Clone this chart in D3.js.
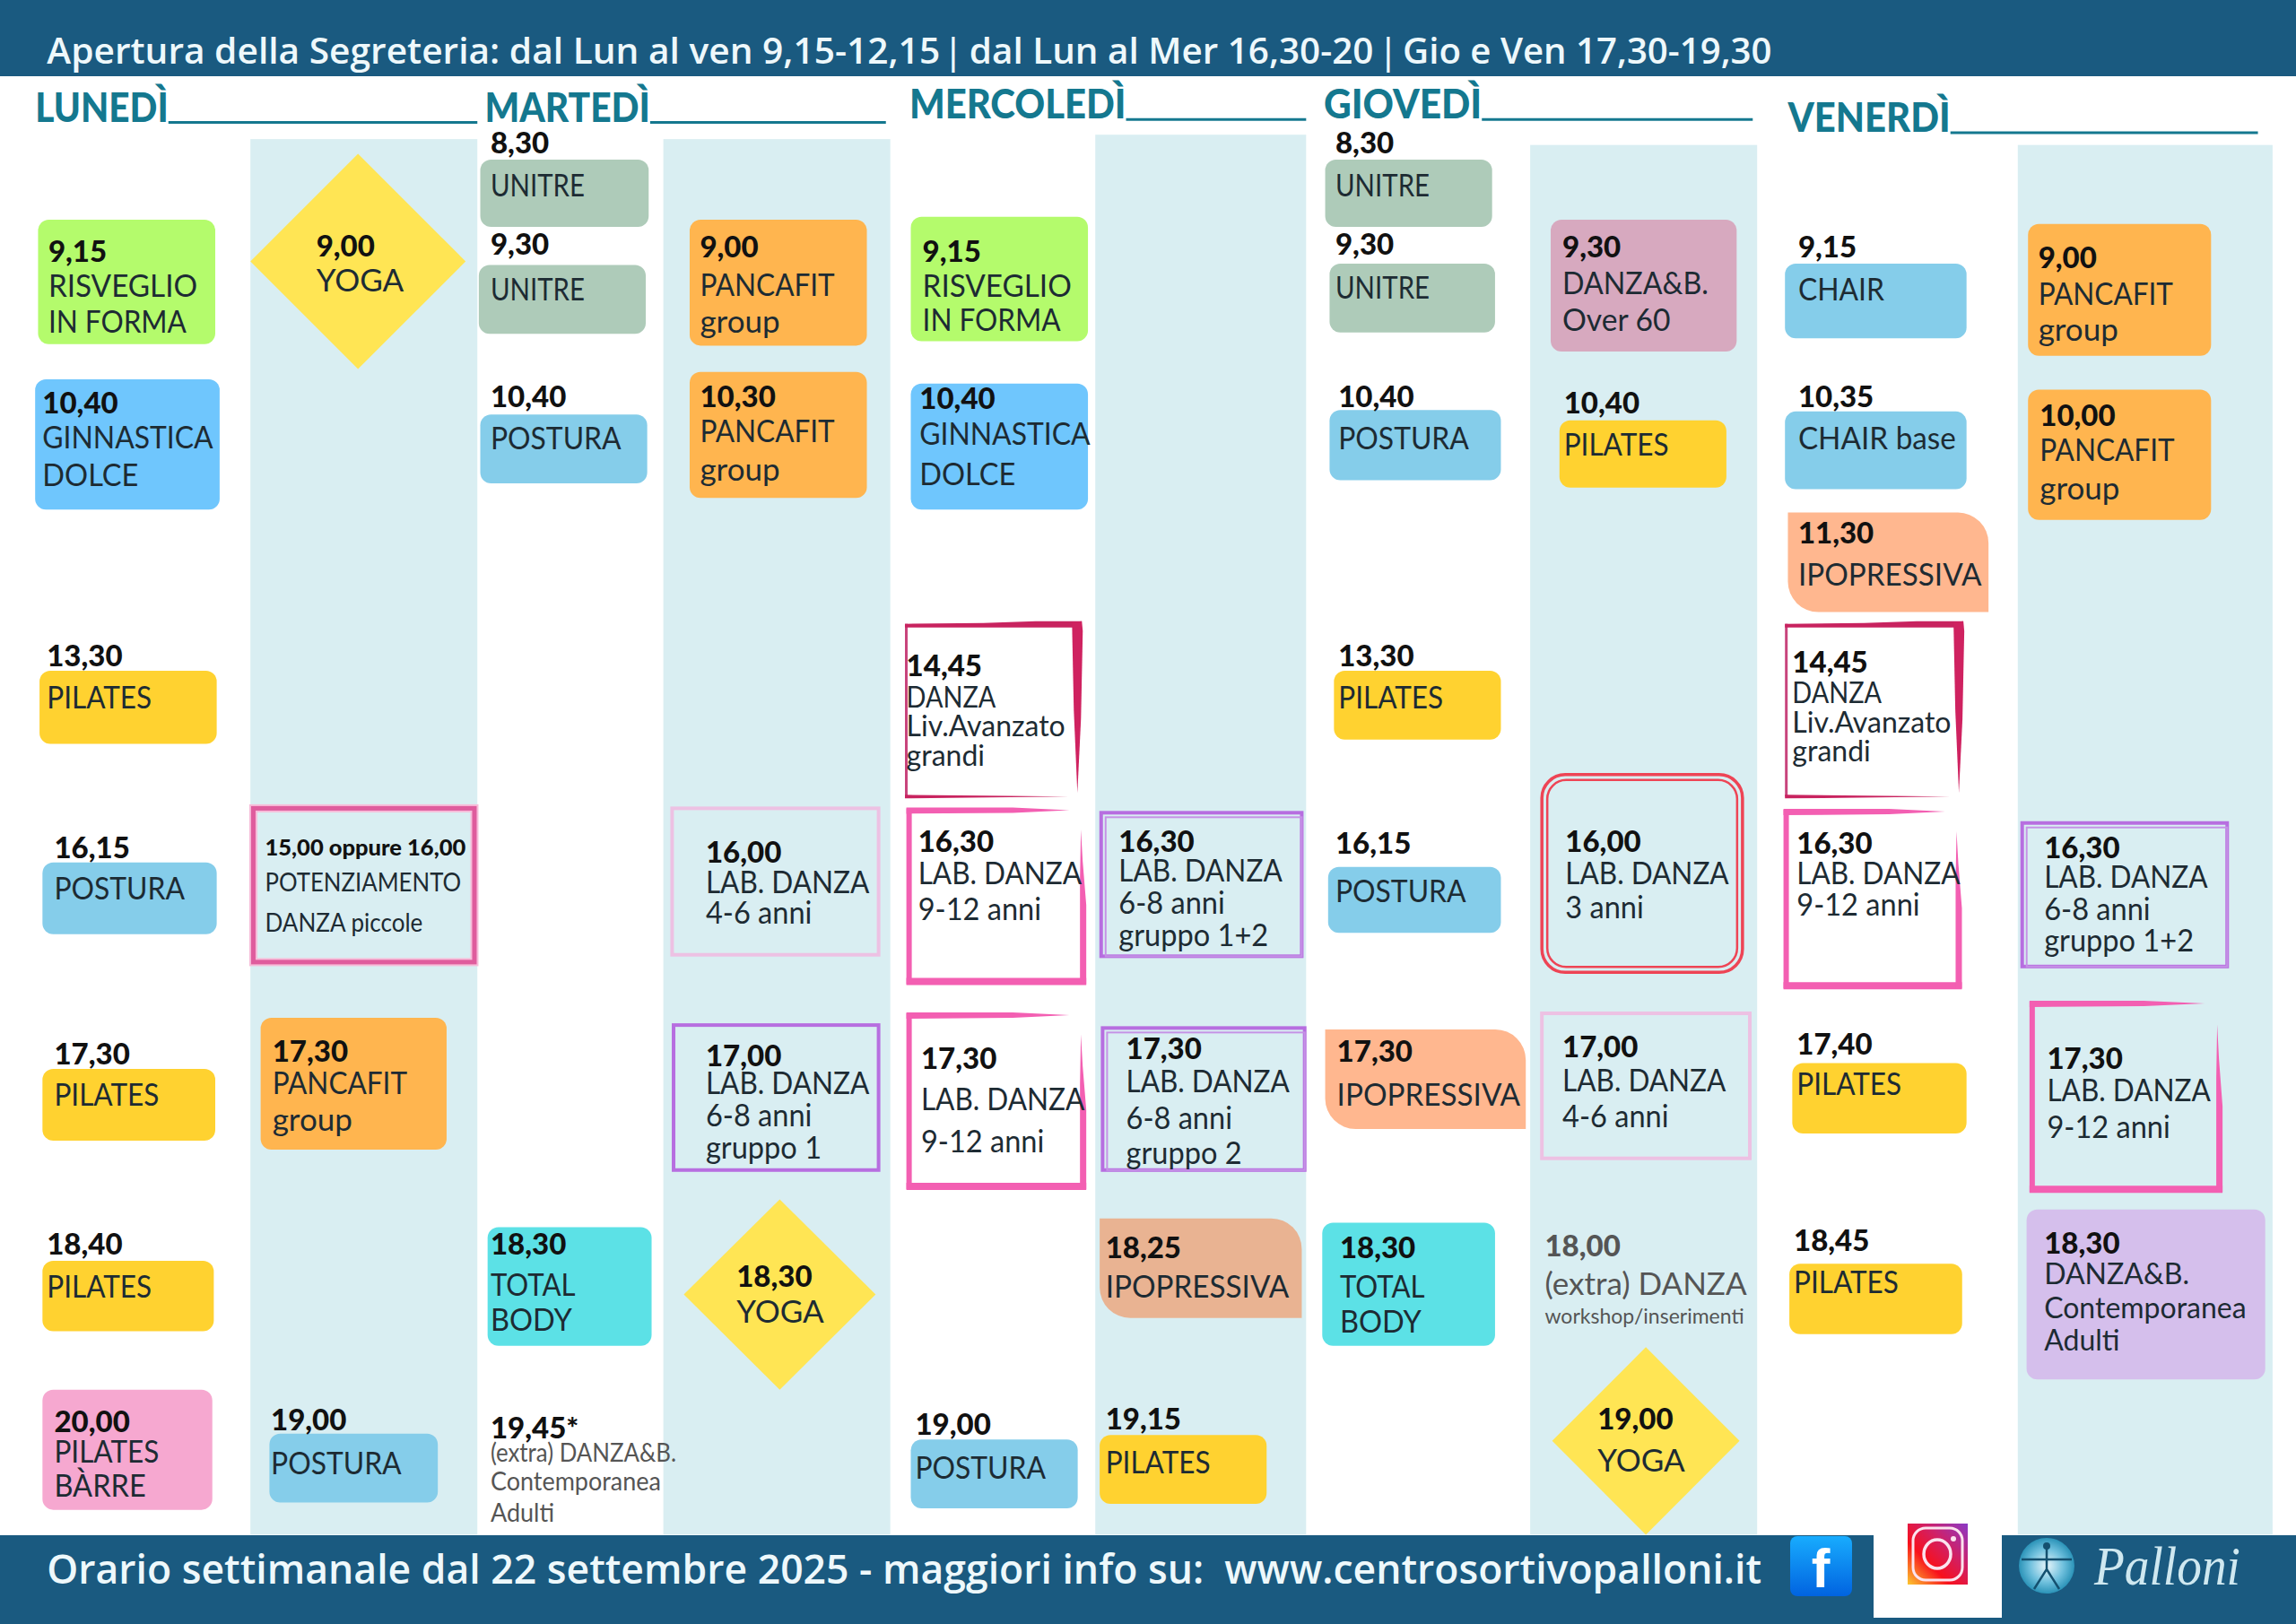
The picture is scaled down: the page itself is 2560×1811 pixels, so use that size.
<!DOCTYPE html>
<html>
<head>
<meta charset="utf-8">
<script src="https://cdn.jsdelivr.net/npm/d3@7"></script>
<style>
    html, body { margin: 0; padding: 0; background: #fff; }
    svg { display: block; }
</style>
</head>
<body>
<div id="chart"></div>
<script>
// timetable content, one entry per class
const headerParts = [
    "Apertura della Segreteria: dal Lun al ven 9,15-12,15", "|",
    "dal Lun al Mer 16,30-20", "|",
    "Gio e Ven 17,30-19,30"
];
const headerSpans = [[32,642], [645,657], [662,938], [942,954], [958,1210]];
const footerText = "Orario settimanale dal 22 settembre 2025 - maggiori info su:  www.centrosortivopalloni.it";
const days = ["LUNEDÌ", "MARTEDÌ", "MERCOLEDÌ", "GIOVEDÌ", "VENERDÌ"];

const times = [
    "9,15", "10,40", "13,30", "16,15", "17,30", "18,40", "20,00",
    "9,00", "15,00 oppure 16,00", "17,30", "19,00",
    "8,30", "9,30", "10,40", "18,30", "19,45*",
    "9,00", "10,30", "16,00", "17,00", "18,30",
    "9,15", "10,40", "14,45", "16,30", "17,30", "19,00",
    "16,30", "17,30", "18,25", "19,15",
    "8,30", "9,30", "10,40", "13,30", "16,15", "17,30", "18,30",
    "9,30", "10,40", "16,00", "17,00", "18,00", "19,00",
    "9,15", "10,35", "11,30", "14,45", "16,30", "17,40", "18,45",
    "9,00", "10,00", "16,30", "17,30", "18,30"
];

const activities = [
    ["RISVEGLIO", "IN FORMA"], ["GINNASTICA", "DOLCE"], ["PILATES"], ["POSTURA"], ["PILATES"], ["PILATES"], ["PILATES", "BÀRRE"],
    ["YOGA"], ["POTENZIAMENTO", "DANZA piccole"], ["PANCAFIT", "group"], ["POSTURA"],
    ["UNITRE"], ["UNITRE"], ["POSTURA"], ["TOTAL", "BODY"], ["(extra) DANZA&B.", "Contemporanea", "Adulti"],
    ["PANCAFIT", "group"], ["PANCAFIT", "group"], ["LAB. DANZA", "4-6 anni"], ["LAB. DANZA", "6-8 anni", "gruppo 1"], ["YOGA"],
    ["RISVEGLIO", "IN FORMA"], ["GINNASTICA", "DOLCE"], ["DANZA", "Liv.Avanzato", "grandi"], ["LAB. DANZA", "9-12 anni"], ["LAB. DANZA", "9-12 anni"], ["POSTURA"],
    ["LAB. DANZA", "6-8 anni", "gruppo 1+2"], ["LAB. DANZA", "6-8 anni", "gruppo 2"], ["IPOPRESSIVA"], ["PILATES"],
    ["UNITRE"], ["UNITRE"], ["POSTURA"], ["PILATES"], ["POSTURA"], ["IPOPRESSIVA"], ["TOTAL", "BODY"],
    ["DANZA&B.", "Over 60"], ["PILATES"], ["LAB. DANZA", "3 anni"], ["LAB. DANZA", "4-6 anni"], ["(extra) DANZA", "workshop/inserimenti"], ["YOGA"],
    ["CHAIR"], ["CHAIR base"], ["IPOPRESSIVA"], ["DANZA", "Liv.Avanzato", "grandi"], ["LAB. DANZA", "9-12 anni"], ["PILATES"], ["PILATES"],
    ["PANCAFIT", "group"], ["PANCAFIT", "group"], ["LAB. DANZA", "6-8 anni", "gruppo 1+2"], ["LAB. DANZA", "9-12 anni"], ["DANZA&B.", "Contemporanea", "Adulti"]
];

const kinds = [
    "risveglio", "ginnastica", "pilates", "postura", "pilates", "pilates", "barre",
    "yoga", "magenta", "pancafit", "postura",
    "unitre", "unitre", "postura", "total", "none",
    "pancafit", "pancafit", "lightpink", "purple", "yoga",
    "risveglio", "ginnastica", "crimson", "pink", "pink", "postura",
    "purple2", "purple2", "ipoDark", "pilates",
    "unitre", "unitre", "postura", "pilates", "postura", "ipo", "total",
    "mauve", "pilates", "red", "lightpink", "none", "yoga",
    "postura", "postura", "ipo", "crimson", "pink", "pilates", "pilates",
    "pancafit", "pancafit", "purple2", "pink", "lavender"
];

// layout, measured in a 1568 x 1109 grid: box, text x, text baselines
const layout = [
    [26,150,147,235, 33,[179,203,227]], [24,259,150,348, 29,[282,306,332]], [27,458,148,508, 32,[455,484]],
    [29,589,148,638, 37,[586,614]], [29,730,147,779, 37,[727,755]], [29,861,146,909, 32,[857,886]], [29,949,145,1031, 37,[978,999,1022]],
    [171,105,318,252, 216,[175,199]], [173,552,324,657, 181,[584,609,636]], [178,695,305,785, 186,[725,747,772]], [184,979,299,1026, 185,[977,1007]],
    [328,109,443,155, 335,[105,134]], [327,181,441,228, 335,[174,205]], [328,283,442,330, 335,[278,307]], [333,838,445,919, 335,[857,885,909]], null,
    [471,150,592,236, 478,[176,202,227]], [471,254,592,340, 478,[278,302,328]], [459,552,600,652, 482,[589,610,631]], [460,700,600,799, 482,[728,747,769,791]], [467,819,598,949, 503,[879,903]],
    [622,148,743,233, 630,[179,203,226]], [622,262,743,348, 628,[279,304,331]], [618,426,737,544, 619,[462,483,503,523]], [619,552,740,672, 627,[582,604,628]], [619,692,740,812, 629,[730,758,787]], [622,983,736,1030, 625,[980,1010]],
    [752,555,889,653, 764,[582,602,624,646]], [753,702,891,799, 769,[723,746,771,795]], [751,832,889,900, 755,[859,886]], [751,980,865,1027, 755,[976,1006]],
    [905,109,1019,155, 912,[105,134]], [908,180,1021,227, 912,[174,204]], [908,280,1025,328, 914,[278,307]], [911,458,1025,505, 914,[455,484]], [907,592,1025,637, 912,[583,616]], [905,703,1042,771, 913,[725,755]], [903,835,1021,919, 915,[859,886,910]],
    [1059,150,1186,240, 1067,[176,201,226]], [1065,287,1179,333, 1068,[282,311]], [1053,529,1190,664, 1069,[582,604,627]], [1053,692,1195,791, 1067,[722,745,770]], null, [1060,920,1188,1048, 1091,[976,1005]],
    [1219,180,1343,231, 1228,[176,205]], [1219,281,1343,334, 1228,[278,307]], [1221,350,1358,418, 1228,[371,400]], [1219,426,1339,544, 1224,[459,480,500,520]], [1218,553,1338,675, 1227,[583,604,625]], [1224,726,1343,774, 1227,[720,748]], [1222,863,1340,911, 1225,[854,883]],
    [1385,153,1510,243, 1392,[183,208,233]], [1385,266,1510,355, 1393,[291,315,341]], [1381,562,1521,660, 1396,[586,606,628,650]], [1386,684,1516,814, 1398,[730,752,777]], [1384,826,1547,942, 1396,[856,877,900,922]]
];
// the two classes drawn without any box
const openText = { 15: [335,[982,998,1018,1039]], 42: [1055,[858,884,904]] };

const bands = [[171,326,95], [453,608,95], [748,892,92], [1045,1200,99], [1378,1552,99]];
const dayPos = [[24,83,115,326], [331,83,444,605], [621,81,769,892], [904,81,1012,1197], [1221,90,1332,1542]];

const fills = {
    risveglio: "#b4fb6c", ginnastica: "#6fc6fd", pilates: "#ffd230", postura: "#85cdea", barre: "#f6a8d0",
    yoga: "#ffe554", pancafit: "#ffb54f", unitre: "#aecbb9", total: "#5ce1e6", ipo: "#ffb78f", ipoDark: "#e9b392",
    mauve: "#d7a9bf", lavender: "#d5bfec"
};
// the picture's font runs narrower than Lato, so each word gets squeezed to its width
const squeeze = {
    "UNITRE": 0.84, "TOTAL": 0.89, "PILATES": 0.9, "IN FORMA": 0.9, "LAB. DANZA": 0.9, "PANCAFIT": 0.9,
    "POSTURA": 0.91, "CHAIR": 0.91, "DANZA&B.": 0.92, "POTENZIAMENTO": 0.92, "9-12 anni": 0.93,
    "IPOPRESSIVA": 0.95, "CHAIR base": 0.95, "RISVEGLIO": 0.95, "Over 60": 0.96, "(extra) DANZA&B.": 0.89,
    "YOGA": 1, "group": 1, "(extra) DANZA": 1, "workshop/inserimenti": 1, "GINNASTICA": 0.91
};

const W = 2560, H = 1811;
const sx = d3.scaleLinear().domain([0, 1568]).range([0, W]);
const sy = d3.scaleLinear().domain([0, 1109]).range([0, H]);

const svg = d3.select("#chart").append("svg").attr("width", W).attr("height", H);
const defs = svg.append("defs");

function linearGrad(id, x1, y1, x2, y2, stops) {
    let g = defs.append("linearGradient").attr("id", id)
        .attr("x1", x1).attr("y1", y1).attr("x2", x2).attr("y2", y2);
    stops.forEach(s => g.append("stop").attr("offset", s[0]).attr("stop-color", s[1]));
}
linearGrad("fb", 0, 0, 0, 1, [[0, "#18acfe"], [1, "#0163e0"]]);
linearGrad("ig", 0, 1, 1, 0, [[0, "#fdc830"], [0.35, "#f8101c"], [0.65, "#cf2068"], [1, "#8a3ac8"]]);
let rg = defs.append("radialGradient").attr("id", "logo");
rg.append("stop").attr("offset", 0).attr("stop-color", "#e8f6fb");
rg.append("stop").attr("offset", 0.6).attr("stop-color", "#6fc0dd");
rg.append("stop").attr("offset", 1).attr("stop-color", "#2b93b8");

// column bands and bars
svg.append("g").selectAll("rect").data(bands).enter().append("rect")
    .attr("x", d => sx(d[0])).attr("y", d => sy(d[2]))
    .attr("width", d => sx(d[1]) - sx(d[0])).attr("height", d => sy(1048) - sy(d[2]))
    .attr("fill", "#d9eef2");

svg.append("rect").attr("width", W).attr("height", 85).attr("fill", "#1a5a80");
svg.append("rect").attr("y", 1712).attr("width", W).attr("height", H - 1712).attr("fill", "#1a5a80");

svg.append("g").selectAll("text").data(headerParts).enter().append("text").text(d => d)
    .attr("x", (d, i) => sx(headerSpans[i][0])).attr("y", 71)
    .attr("textLength", (d, i) => sx(headerSpans[i][1]) - sx(headerSpans[i][0])).attr("lengthAdjust", "spacingAndGlyphs")
    .attr("font-family", "'Open Sans'").attr("font-weight", 600).attr("font-size", 40).attr("fill", "#eef8fb");

svg.append("text").text(footerText)
    .attr("x", sx(32)).attr("y", 1766).attr("xml:space", "preserve")
    .attr("textLength", sx(1203) - sx(32)).attr("lengthAdjust", "spacingAndGlyphs")
    .attr("font-family", "'Open Sans'").attr("font-weight", 600).attr("font-size", 45).attr("fill", "#eef8fb");

// day headings with their rule
const heads = svg.append("g").selectAll("g").data(days).enter().append("g");
heads.append("text").text(d => d)
    .attr("x", (d, i) => sx(dayPos[i][0])).attr("y", (d, i) => sy(dayPos[i][1]))
    .attr("textLength", (d, i) => sx(dayPos[i][2]) - sx(dayPos[i][0])).attr("lengthAdjust", "spacingAndGlyphs")
    .attr("font-family", "Lato").attr("font-weight", 900).attr("font-size", 46).attr("fill", "#14788f");
heads.append("line")
    .attr("x1", (d, i) => sx(dayPos[i][2])).attr("x2", (d, i) => sx(dayPos[i][3]))
    .attr("y1", (d, i) => sy(dayPos[i][1]) + 1).attr("y2", (d, i) => sy(dayPos[i][1]) + 1)
    .attr("stroke", "#14788f").attr("stroke-width", 3);

function roundedPath(x0, y0, x1, y1, r) {
    // square corners top-left and bottom-right, big round ones on the other two
    let p = d3.path();
    p.moveTo(x0, y0);
    p.lineTo(x1 - r, y0);
    p.arcTo(x1, y0, x1, y0 + r, r);
    p.lineTo(x1, y1);
    p.lineTo(x0 + r, y1);
    p.arcTo(x0, y1, x0, y1 - r, r);
    p.closePath();
    return p.toString();
}

function taper(g, pts, color) {
    g.append("polygon").attr("points", pts.map(p => p.join(",")).join(" ")).attr("fill", color);
}

function drawBox(g, kind, x0, y0, x1, y1) {
    let w = x1 - x0, h = y1 - y0;
    if (kind === "yoga") {
        let cx = (x0 + x1) / 2, cy = (y0 + y1) / 2;
        g.append("polygon").attr("fill", fills.yoga)
            .attr("points", [[cx, y0], [x1, cy], [cx, y1], [x0, cy]].map(p => p.join(",")).join(" "));
    } else if (kind === "ipo" || kind === "ipoDark") {
        g.append("path").attr("d", roundedPath(x0, y0, x1, y1, 34)).attr("fill", fills[kind]);
    } else if (fills[kind]) {
        g.append("rect").attr("x", x0).attr("y", y0).attr("width", w).attr("height", h).attr("rx", 12)
            .attr("fill", fills[kind]);
    } else if (kind === "crimson") {
        // brush frame: thin left and bottom, heavy top right corner
        taper(g, [[x0, y0], [x0 + 3, y0], [x0 + 3, y1], [x0, y1]], "#c8447c");
        taper(g, [[x0, y1 - 2], [x0 + w * 0.45, y1 - 1], [x1 - 12, y1], [x0, y1 + 2]], "#c8235f");
        taper(g, [[x0, y0], [x0 + w * 0.45, y0 - 1], [x0 + w * 0.75, y0 - 3], [x1 + 3, y0 - 3], [x1 - 4, y0 + 4], [x0, y0 + 4]], "#c8235f");
        taper(g, [[x1 - 8, y0 - 2], [x1 + 3, y0 - 3], [x1 + 4, y0 + 8], [x1 + 2, y0 + h * 0.55], [x1 - 2, y1 - 4], [x1 - 6, y0 + h * 0.5]], "#cf2260");
    } else if (kind === "pink") {
        // brush frame: solid left and bottom, top fades out, right grows downwards
        taper(g, [[x0, y0], [x0 + 6, y0], [x0 + 6, y1], [x0, y1]], "#f35fb2");
        taper(g, [[x0, y1 - 7], [x1 + 3, y1 - 7], [x1 + 3, y1 + 1], [x0, y1 + 1]], "#f35fb2");
        taper(g, [[x0, y0 - 1], [x0 + w * 0.6, y0 - 1], [x0 + w * 0.92, y0 + 2], [x0 + w * 0.6, y0 + 5], [x0, y0 + 6]], "#f35fb2");
        taper(g, [[x1 - 3, y0 + h * 0.12], [x1 - 1, y0 + h * 0.3], [x1 + 3, y0 + h * 0.55], [x1 + 3, y1], [x1 - 4, y1], [x1 - 4, y0 + h * 0.4]], "#f35fb2");
    } else if (kind === "magenta") {
        g.append("rect").attr("x", x0).attr("y", y0).attr("width", w).attr("height", h).attr("fill", "none")
            .attr("stroke", "#f7bcd9").attr("stroke-width", 9);
        g.append("rect").attr("x", x0).attr("y", y0).attr("width", w).attr("height", h).attr("fill", "none")
            .attr("stroke", "#df5c9d").attr("stroke-width", 5);
    } else if (kind === "purple" || kind === "purple2") {
        g.append("rect").attr("x", x0).attr("y", y0).attr("width", w).attr("height", h).attr("fill", "none")
            .attr("stroke", "#b76ee0").attr("stroke-width", 4);
        if (kind === "purple2") {
            g.append("rect").attr("x", x0 + 5).attr("y", y0 + 5).attr("width", w - 5).attr("height", h - 5).attr("fill", "none")
                .attr("stroke", "#c592e6").attr("stroke-width", 2);
        }
    } else if (kind === "lightpink") {
        g.append("rect").attr("x", x0).attr("y", y0).attr("width", w).attr("height", h).attr("fill", "none")
            .attr("stroke", "#edc1e3").attr("stroke-width", 4);
    } else if (kind === "red") {
        g.append("rect").attr("x", x0).attr("y", y0).attr("width", w).attr("height", h).attr("rx", 26).attr("fill", "none")
            .attr("stroke", "#ee4455").attr("stroke-width", 3.5);
        g.append("rect").attr("x", x0 + 6).attr("y", y0 + 6).attr("width", w - 12).attr("height", h - 12).attr("rx", 21).attr("fill", "none")
            .attr("stroke", "#ee4455").attr("stroke-width", 2.5);
    }
}

function lineSize(d, line) {
    if (line === "workshop/inserimenti") return 23;
    if (d.kind === "magenta") return 28;
    if (d.kind === "crimson" || d.kind === "lavender") return 32;
    if (d.time === "19,45*") return 29;
    return 35;
}

function lineSqueeze(d, line) {
    if (d.kind === "crimson") return line === "DANZA" ? 0.9 : 1;
    if (d.kind === "lavender") return 1;
    if (line in squeeze) return squeeze[line];
    return 0.93;
}

const classes = times.map((t, i) => ({
    time: t,
    lines: activities[i],
    kind: kinds[i],
    box: layout[i],
    textX: layout[i] ? layout[i][4] : openText[i][0],
    ys: layout[i] ? layout[i][5] : openText[i][1]
}));

const classG = svg.append("g").selectAll("g").data(classes).enter().append("g");

classG.each(function (d) {
    if (d.box) {
        drawBox(d3.select(this), d.kind, sx(d.box[0]), sy(d.box[1]), sx(d.box[2]), sy(d.box[3]));
    }
});

classG.append("text").text(d => d.time)
    .attr("x", d => sx(d.textX)).attr("y", d => sy(d.ys[0]))
    .attr("font-family", "Lato").attr("font-weight", 900)
    .attr("font-size", d => d.time.length > 8 ? 25.5 : 33)
    .attr("fill", d => d.kind === "none" && d.time === "18,00" ? "#555" : "#111");

classG.each(function (d) {
    let g = d3.select(this);
    let dim = d.kind === "none";
    d.lines.forEach((line, j) => {
        let t = g.append("text").text(line)
            .attr("x", sx(d.textX)).attr("y", sy(d.ys[j + 1]))
            .attr("font-family", "Lato").attr("font-size", lineSize(d, line))
            .attr("fill", dim ? "#555" : "#1d2b33");
        let k = lineSqueeze(d, line);
        if (k !== 1) {
            t.attr("textLength", t.node().getComputedTextLength() * k).attr("lengthAdjust", "spacingAndGlyphs");
        }
    });
});

// social icons and logo in the footer
svg.append("rect").attr("x", 2089).attr("y", 1712).attr("width", 143).attr("height", 92).attr("fill", "#fff");
svg.append("rect").attr("x", 1996).attr("y", 1713).attr("width", 69).attr("height", 67).attr("rx", 8).attr("fill", "url(#fb)");
svg.append("text").text("f").attr("x", 2030).attr("y", 1770).attr("text-anchor", "middle")
    .attr("font-family", "'Liberation Sans'").attr("font-weight", 700).attr("font-size", 62).attr("fill", "#fff");
svg.append("rect").attr("x", 2127).attr("y", 1699).attr("width", 67).attr("height", 68).attr("fill", "url(#ig)");
svg.append("rect").attr("x", 2133).attr("y", 1704).attr("width", 55).attr("height", 58).attr("rx", 14)
    .attr("fill", "none").attr("stroke", "#fbe3ee").attr("stroke-width", 3);
svg.append("ellipse").attr("cx", 2160).attr("cy", 1733).attr("rx", 15).attr("ry", 16)
    .attr("fill", "none").attr("stroke", "#fbe3ee").attr("stroke-width", 3.5);
svg.append("circle").attr("cx", 2178).attr("cy", 1716).attr("r", 3).attr("fill", "#fbe3ee");

svg.append("ellipse").attr("cx", 2282).attr("cy", 1746).attr("rx", 31).attr("ry", 31).attr("fill", "url(#logo)");
svg.append("path").attr("d", "M2254 1739H2310M2282 1725L2282 1750L2268 1772M2282 1750L2296 1772")
    .attr("fill", "none").attr("stroke", "#14506f").attr("stroke-width", 2.5);
svg.append("circle").attr("cx", 2282).attr("cy", 1724).attr("r", 4).attr("fill", "#14506f");
svg.append("text").text("Palloni").attr("x", 2335).attr("y", 1767)
    .attr("textLength", 163).attr("lengthAdjust", "spacingAndGlyphs")
    .attr("font-family", "'Liberation Serif'").attr("font-style", "italic").attr("font-size", 62).attr("fill", "#cfe8f0");
</script>
</body>
</html>
